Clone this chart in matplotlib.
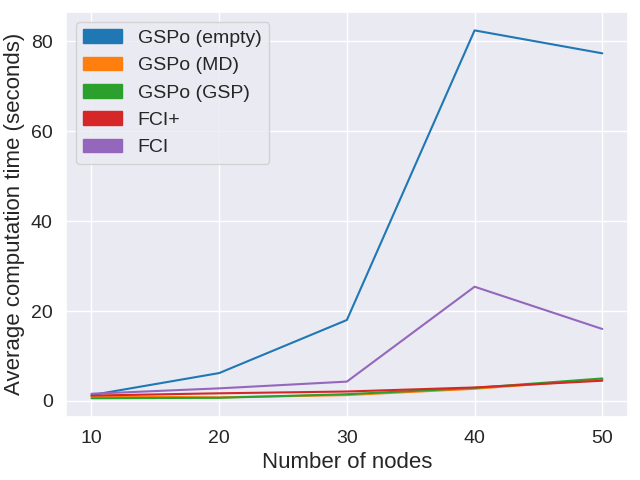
import numpy as np
import matplotlib
matplotlib.use("Agg")
import matplotlib.pyplot as plt
import matplotlib.patches as mpatches
import seaborn as sns

sns.set_theme(style="darkgrid")
plt.rcParams['font.family'] = ['Liberation Sans', 'DejaVu Sans']

nodes = [10, 20, 30, 40, 50]
gspo_empty = [1.3, 6.2, 18.0, 82.4, 77.3]
gspo_md = [1.0, 0.8, 1.3, 2.7, 4.8]
gspo_gsp = [0.6, 0.7, 1.5, 2.9, 5.0]
fci_plus = [1.2, 1.7, 2.1, 3.0, 4.5]
fci = [1.6, 2.8, 4.3, 25.4, 16.0]

names = ['GSPo (empty)', 'GSPo (MD)', 'GSPo (GSP)', 'FCI+', 'FCI']
series = [gspo_empty, gspo_md, gspo_gsp, fci_plus, fci]
colors = ['tab:blue', 'tab:orange', 'tab:green', 'tab:red', 'tab:purple']

fig, ax = plt.subplots(figsize=(6.4, 4.8), dpi=100)
handles = []
for name, vals, c in zip(names, series, colors):
    ax.plot(nodes, vals, color=c, lw=1.5)
    handles.append(mpatches.Patch(color=c, label=name))

ax.set_xticks(nodes)
ax.set_yticks([0, 20, 40, 60, 80])
ax.tick_params(labelsize=14)
ax.set_xlabel('Number of nodes', fontsize=16)
ax.set_ylabel('Average computation time (seconds)', fontsize=16)
ax.legend(handles=handles, loc='upper left', fontsize=14)
fig.subplots_adjust(left=0.103, right=0.981, top=0.975, bottom=0.132)
plt.savefig('out.png')
